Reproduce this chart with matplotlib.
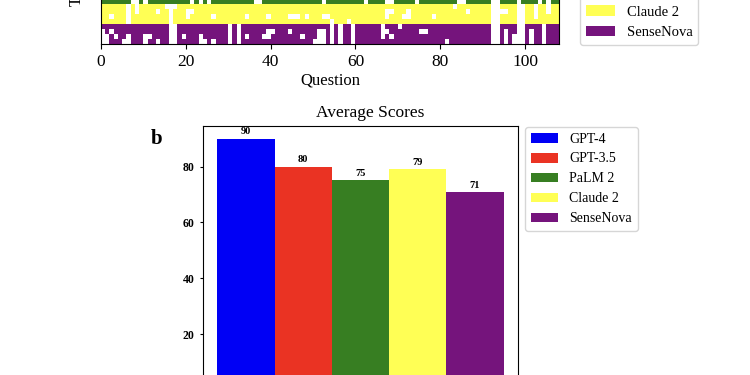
import numpy as np
import matplotlib
matplotlib.use("Agg")
import matplotlib.pyplot as plt
from matplotlib.colors import ListedColormap
from matplotlib.patches import Patch

plt.rcParams["font.family"] = ["Liberation Serif", "DejaVu Serif"]

models = ["GPT-4", "GPT-3.5", "PaLM 2", "Claude 2", "SenseNova"]
model_colors = ["#0000f5", "#ea3323", "#377e22", "#ffff55", "#75147c"]
avg_scores = [90, 80, 75, 79, 71]

n_questions = 108
# trial rows of panel a that are visible, top to bottom
trial_models = ["PaLM 2",
                "Claude 2", "Claude 2", "Claude 2", "Claude 2",
                "SenseNova", "SenseNova", "SenseNova", "SenseNova"]
# questions answered wrong (white cells) in each of those rows
wrong_questions = [
    [7, 8, 10, 21, 23, 25, 36, 37, 52, 62, 67, 68, 74, 84, 85, 92, 93, 98, 103, 105],
    [6, 8, 15, 16, 17, 83, 92, 93, 98, 99, 102, 105],
    [6, 8, 13, 16, 20, 21, 67, 68, 72, 86, 92, 93, 94, 95, 98, 99, 102, 105],
    [2, 6, 16, 20, 26, 34, 39, 44, 45, 46, 48, 52, 53, 67, 71, 72, 78, 92, 93, 98, 99, 102],
    [6, 16, 54, 58, 92, 93, 98, 99],
    [16, 17, 30, 32, 54, 56, 59, 66, 70, 92, 93, 98, 99, 104],
    [0, 2, 16, 17, 30, 32, 39, 40, 44, 51, 52, 54, 56, 59, 66, 67, 75, 76, 92, 93, 95,
     98, 99, 101, 104],
    [0, 1, 3, 6, 10, 11, 16, 17, 19, 23, 30, 32, 34, 38, 39, 47, 51, 52, 54, 56, 59, 66,
     68, 92, 93, 95, 97, 98, 99, 101, 104],
    [0, 1, 5, 6, 10, 13, 16, 17, 23, 24, 26, 30, 32, 50, 51, 52, 54, 56, 59, 81, 92, 93,
     95, 97, 98, 99, 101, 104],
]

grid = np.zeros((len(trial_models), n_questions))
for r, (m, wrong) in enumerate(zip(trial_models, wrong_questions)):
    grid[r, :] = models.index(m) + 1
    grid[r, wrong] = 0

fig = plt.figure(figsize=(7.5, 3.75), dpi=100)

# panel a (only its lower part is inside the picture)
ax1 = fig.add_axes([101 / 750, 1 - 44 / 375, 458 / 750, 45 / 375])
cmap = ListedColormap(["white"] + model_colors)
ax1.pcolormesh(np.arange(n_questions + 1), np.arange(len(trial_models) + 1), grid,
               cmap=cmap, vmin=-0.5, vmax=5.5)
ax1.set_xlim(0, n_questions)
ax1.set_ylim(len(trial_models), 0)
ax1.set_yticks([])
ax1.set_xticks([0, 20, 40, 60, 80, 100])
ax1.tick_params(axis="x", labelsize=12.5)
ax1.set_xlabel("Question", fontsize=12, labelpad=2)
ax1.set_ylabel("Trial", fontsize=12)
ax1.yaxis.set_label_coords(-0.035, 1.2)

handles = [Patch(facecolor=c, label=m) for m, c in zip(models, model_colors)]
fig.legend(handles=handles, loc="lower left", fontsize=10.5,
           bbox_to_anchor=(580 / 750, 1 - 45 / 375), borderaxespad=0)

# panel b (its lower part lies below the picture)
ax2 = fig.add_axes([203 / 750, 1 - 390 / 375, 315 / 750, 264 / 375])
bars = ax2.bar(np.arange(len(models)), avg_scores, width=1.0, color=model_colors,
               label=models)
ax2.bar_label(bars, fontsize=7.5, fontweight="bold", padding=1.5)
ax2.set_xticks([])
ax2.set_yticks([20, 40, 60, 80])
ax2.tick_params(axis="y", labelsize=8.5, length=2.5)
for t in ax2.get_yticklabels():
    t.set_fontweight("bold")
ax2.legend(loc="upper left", fontsize=10, bbox_to_anchor=(525 / 750, 1 - 127 / 375),
           bbox_transform=fig.transFigure, borderaxespad=0)

fig.text(370 / 750, 1 - 117 / 375, "Average Scores", fontsize=12.5, ha="center",
         va="baseline")
fig.text(157 / 750, 1 - 139 / 375, "b", fontsize=15, fontweight="bold", ha="center",
         va="center")

fig.savefig("out.png", dpi=100)
